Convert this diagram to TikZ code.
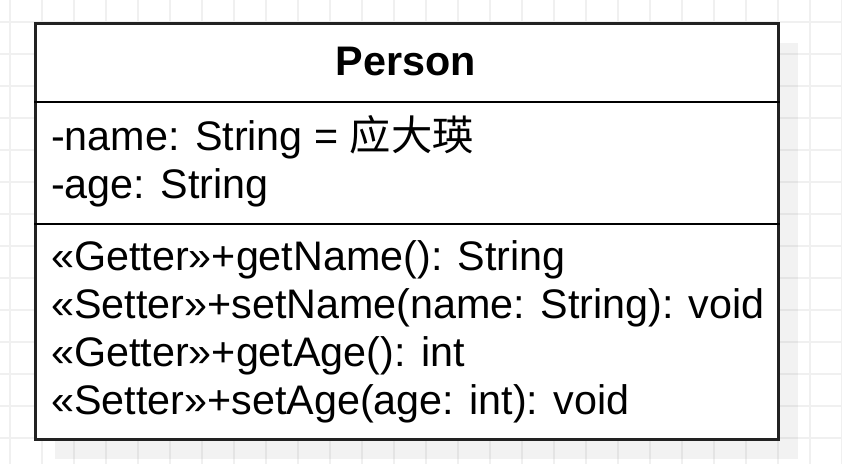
\documentclass[tikz,border=0pt]{standalone}
\usepackage{fontspec}
\setmainfont{Liberation Sans}
\newfontfamily\cjkfont{Noto Sans CJK SC}
\usepackage{xcolor}
\usepackage{tikz}
\usetikzlibrary{
  backgrounds,
  calc,
  positioning
}
\definecolor{gridgray}{RGB}{240,240,240}
\definecolor{shadowgray}{RGB}{128,128,128}
\definecolor{frameink}{RGB}{34,34,34}
\tikzset{
  gridline/.style={draw=gridgray,line width=1.6pt},
  umlshadow/.style={fill=shadowgray,fill opacity=0.1},
  umlframe/.style={draw=frameink,line width=2.6pt,fill=white,
    minimum width=743pt,minimum height=416pt,inner sep=0pt},
  umlrule/.style={draw=black,line width=2.6pt},
  member/.style={anchor=base west,inner sep=0pt,
    font=\fontsize{41.3}{48}\selectfont},
  classname/.style={anchor=base,inner sep=0pt,
    font=\fontsize{41.3}{48}\selectfont\bfseries}
}

\begin{document}
\begin{tikzpicture}[x=1pt,y=-1pt]
  \useasboundingbox (0,0) rectangle (842,464);
  \fill[white] (0,0) rectangle (842,464);
  % background grid
  \foreach \gx in {10,42,...,842}
    \draw[gridline] (\gx,0) -- (\gx,464);
  \foreach \gy in {22,54,...,464}
    \draw[gridline] (0,\gy) -- (842,\gy);
  % class box with its shadow
  \fill[umlshadow] (55,43) rectangle (798,459);
  \node[umlframe,anchor=north west] (person) at (34,22) {};
  \coordinate (sepa) at (34,102);
  \coordinate (sepb) at (34,224);
  \draw[umlrule] (sepa) -- (sepa -| person.east);
  \draw[umlrule] (sepb) -- (sepb -| person.east);
  % name
  \node[classname] (title) at (405.5,75) {Person};
  % attributes
  \node[member] (attrname) at (51,150) {-name: String = {\cjkfont 应大瑛}};
  \node[member] (attrage) at (51,198) {-age: String};
  % operations
  \node[member] (getname) at (51,270) {«Getter»+getName(): String};
  \node[member] (setname) at (51,318) {«Setter»+setName(name: String): void};
  \node[member] (getage) at (51,366) {«Getter»+getAge(): int};
  \node[member] (setage) at (51,414) {«Setter»+setAge(age: int): void};
\end{tikzpicture}
\end{document}
